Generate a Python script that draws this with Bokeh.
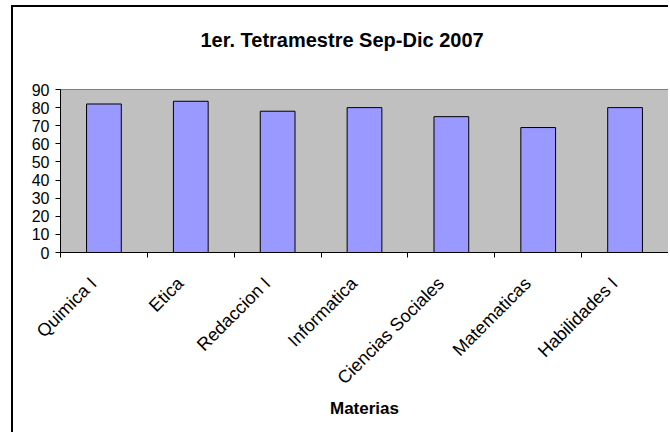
import math
from bokeh.plotting import figure
from bokeh.models import Range1d, LinearAxis, FixedTicker
from bokeh.embed import file_html
from bokeh.resources import INLINE

# ---- data ----
materias = ["Quimica I", "Etica", "Redaccion I", "Informatica",
            "Ciencias Sociales", "Matematicas", "Habilidades I"]
promedios = [82, 83.5, 78, 80, 75, 69, 80]
y_ticks = [0, 10, 20, 30, 40, 50, 60, 70, 80, 90]
titulo = "1er. Tetramestre Sep-Dic 2007"
eje_x = "Materias"

FONT = "Liberation Sans"

n = len(materias)
centros = [i + 0.5 for i in range(n)]   # category slots on the x scale
bordes = list(range(n + 1))             # category boundaries (tick marks)
pos_etiquetas = [c - 0.12 for c in centros]  # label anchor, nudged left

p = figure(
    x_range=Range1d(0, n),
    y_range=Range1d(0, 90),
    width=657, height=427,
    output_backend="svg",
    toolbar_location=None,
    x_axis_location=None,
    min_border_left=47, min_border_right=2, min_border_top=82, min_border_bottom=182,
    title=titulo + "\n",   # trailing blank line lifts the title away from the plot area
)

p.styles = {
    "margin-left": "11px",
    "margin-top": "5px",
    "border-left": "2px solid black",
    "border-top": "2px solid black",
}

p.background_fill_color = "#C0C0C0"
p.border_fill_color = "white"
p.outline_line_color = "#808080"
p.xgrid.visible = False
p.ygrid.visible = False

p.title.text_font = FONT
p.title.text_font_size = "20px"
p.title.text_font_style = "bold"
p.title.align = "left"
p.title.offset = 140
p.title.standoff = 34
p.title.text_color = "black"

p.vbar(x=centros, top=promedios, width=0.4,
       fill_color="#9999FF", line_color="black", line_width=1)

# y axis
yax = p.yaxis[0]
yax.ticker = FixedTicker(ticks=y_ticks)
yax.major_tick_in = 0
yax.major_tick_out = 5
yax.minor_tick_in = 0
yax.minor_tick_out = 0
yax.major_label_text_font = FONT
yax.major_label_text_font_size = "16px"
yax.major_label_text_color = "black"
yax.major_label_standoff = 6
yax.axis_line_color = "black"
yax.major_tick_line_color = "black"

# x axis: labels at category centres, tick marks at category boundaries
xax = LinearAxis(
    ticker=FixedTicker(ticks=pos_etiquetas, minor_ticks=bordes),
    major_label_overrides={c: m for c, m in zip(pos_etiquetas, materias)},
    major_tick_in=0, major_tick_out=0,
    minor_tick_in=0, minor_tick_out=5,
    minor_tick_line_color="black",
    axis_line_color="black",
    major_label_orientation=math.pi / 4,
    major_label_text_font=FONT,
    major_label_text_font_size="18px",
    major_label_text_color="black",
    major_label_standoff=23,
    axis_label=eje_x,
    axis_label_text_font=FONT,
    axis_label_text_font_size="17px",
    axis_label_text_font_style="bold",
    axis_label_text_color="black",
    axis_label_standoff=1,
)
p.add_layout(xax, "below")

open("out.html", "w").write(file_html(p, INLINE))
